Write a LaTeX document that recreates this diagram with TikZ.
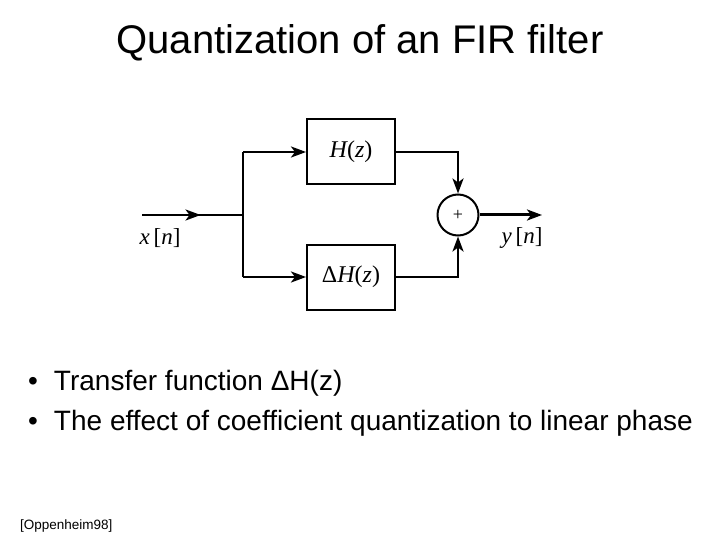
\documentclass[tikz,border=0pt]{standalone}
\usepackage{fontspec}
\setmainfont[Ligatures=NoCommon]{Liberation Sans}
\newfontfamily\tms{Liberation Serif}
\usetikzlibrary{arrows.meta,decorations.markings}
\begin{document}
\begin{tikzpicture}[x=1pt,y=-1pt,
  wire/.style={line width=2.6pt},
  tip/.tip={Stealth[length=15pt,width=11pt,inset=4pt]},
  arr/.style={-tip},
  blk/.style={draw,line width=2pt,minimum width=88pt,minimum height=65pt,inner sep=0pt,font=\tms\fontsize{24}{24}\selectfont},
  midarr/.style={postaction={decorate},decoration={markings,mark=at position 0.58 with {\arrow{tip}}}}]
\useasboundingbox (0,0) rectangle (720,540);
\node[anchor=base] (title) at (360,54) {\fontsize{40}{40}\selectfont Quantization of an FIR filter};
\node[blk] (H) at (351,152) {\itshape H\upshape(\itshape z\upshape)};
\node[blk] (dH) at (351,277) {Δ\itshape H\upshape(\itshape z\upshape)};
\node[draw,circle,line width=2pt,minimum size=41pt,inner sep=0pt,font=\tms\fontsize{18}{18}\selectfont] (sum) at (458,215) {+};
\coordinate (in) at (142,215);
\coordinate (j) at (243,215);
\coordinate (jt) at (243,152);
\coordinate (jb) at (243,277);
\coordinate (out) at (542,215);
\draw[wire,midarr] (in) -- (j);
\draw[wire] (jt) -- (jb);
\draw[wire,arr] (jt) -- (H.west);
\draw[wire,arr] (jb) -- (dH.west);
\draw[wire,arr] (H.east) -| (sum.north);
\draw[wire,arr] (dH.east) -| (sum.south);
\draw[wire,line width=3pt,arr] (sum.east) -- (out);
\node[font=\tms\fontsize{23}{23}\selectfont] (xn) at (160,238) {\itshape x\,\upshape[\itshape n\upshape]};
\node[font=\tms\fontsize{23}{23}\selectfont] (yn) at (522,238) {\itshape y\,\upshape[\itshape n\upshape]};
\node[anchor=base west,inner sep=0pt,font=\fontsize{28}{28}\selectfont] (b1) at (28,390) {•\hspace{16pt}Transfer function ΔH(z)};
\node[anchor=base west,inner sep=0pt,font=\fontsize{28}{28}\selectfont] (b2) at (28,430) {•\hspace{16pt}The effect of coefficient quantization to linear phase};
\node[anchor=base west,inner sep=0pt,font=\fontsize{13.5}{13.5}\selectfont] (ref) at (20,529) {[Oppenheim98]};
\end{tikzpicture}
\end{document}
